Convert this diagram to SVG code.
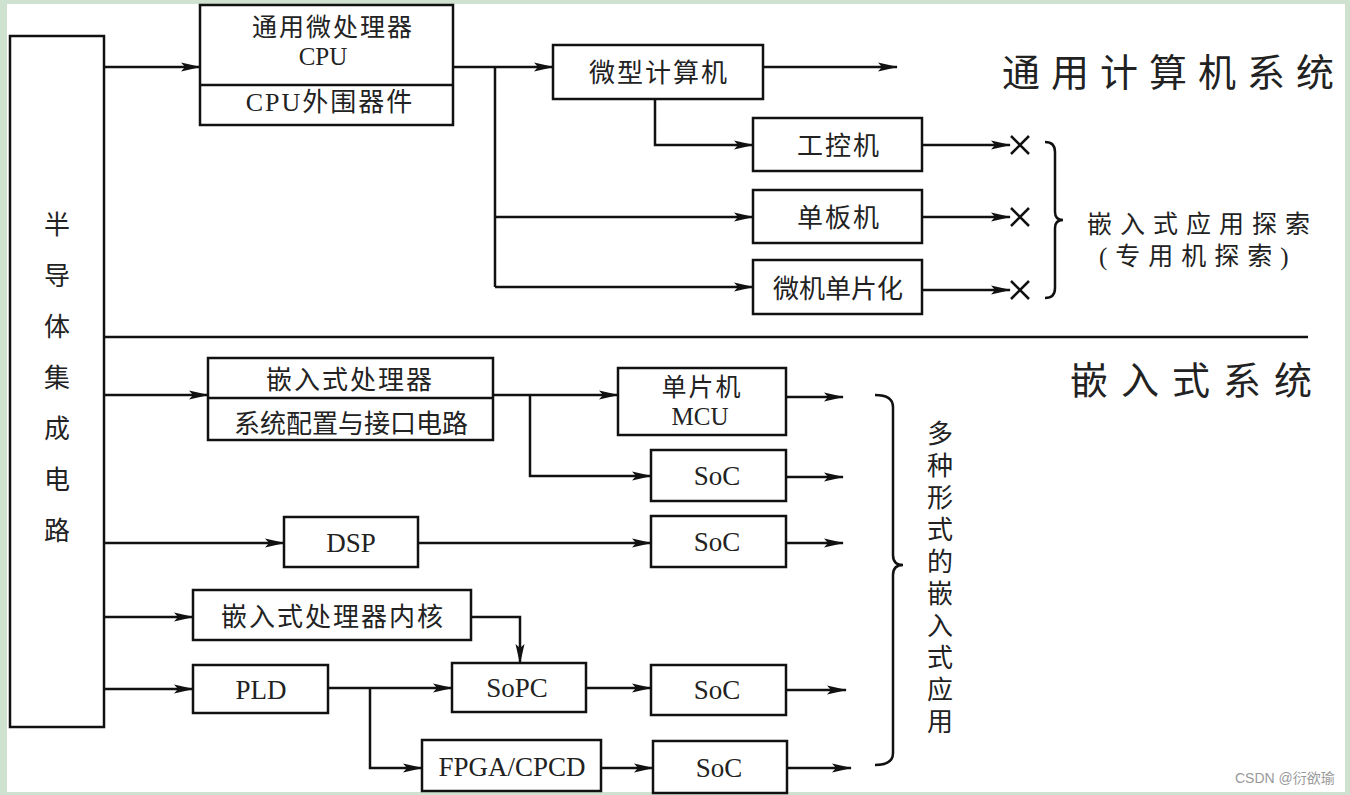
<svg xmlns="http://www.w3.org/2000/svg" width="1350" height="795" viewBox="0 0 1350 795">
<style>
.box{fill:#fff;stroke:#111;stroke-width:2.5}
.ln{fill:none;stroke:#111;stroke-width:2.5}
.arr{fill:none;stroke:#111;stroke-width:2.5;marker-end:url(#ah)}
.t{font-family:"Liberation Serif","Noto Sans CJK SC",serif;font-size:26px;fill:#222;text-anchor:middle;letter-spacing:2px}
.l{font-family:"Liberation Serif","Noto Sans CJK SC",serif;font-size:27px;fill:#222;text-anchor:middle}
.big{font-family:"Liberation Serif","Noto Sans CJK SC",serif;font-size:38px;fill:#222;letter-spacing:11px}
.mid{font-family:"Liberation Serif","Noto Sans CJK SC",serif;font-size:25px;fill:#222;letter-spacing:8px}
.v{font-family:"Liberation Serif","Noto Sans CJK SC",serif;font-size:26px;fill:#222;text-anchor:middle}
.wm{font-family:"Liberation Sans","Noto Sans CJK SC",sans-serif;font-size:14px;fill:#999}
</style>
<defs>
<marker id="ah" markerUnits="userSpaceOnUse" markerWidth="20" markerHeight="10" refX="19" refY="5" orient="auto">
<path d="M0,0.5 L20,5 L0,9.5 L4,5 z" fill="#111"/>
</marker>
</defs>
<rect x="0" y="0" width="1350" height="795" fill="#cfe2cf"/>
<rect x="7" y="4" width="1338" height="788" fill="#fff"/>

<g id="connectors">
<line class="ln" x1="104" y1="337" x2="1308" y2="337"/>
<path class="arr" d="M104,67 H200"/>
<path class="arr" d="M453,67 H553"/>
<path class="ln" d="M495,67 V287"/>
<path class="arr" d="M495,217 H753"/>
<path class="arr" d="M495,287 H753"/>
<path class="arr" d="M763,67 H897"/>
<path class="arr" d="M655,99 V145 H753"/>
<path class="arr" d="M922,145 H1010"/>
<path class="arr" d="M922,217 H1010"/>
<path class="arr" d="M922,290 H1010"/>
<path class="ln" d="M1011,136 L1029,154 M1029,136 L1011,154"/>
<path class="ln" d="M1011,208 L1029,226 M1029,208 L1011,226"/>
<path class="ln" d="M1011,281 L1029,299 M1029,281 L1011,299"/>
<path class="ln" d="M1045,142 Q1055,142 1055,152 L1055,212 Q1055,220 1063,220 Q1055,220 1055,228 L1055,288 Q1055,298 1045,298"/>

<path class="arr" d="M104,395 H208"/>
<path class="arr" d="M493,395 H618"/>
<path class="arr" d="M530,395 V476 H651"/>
<path class="arr" d="M786,397 H843"/>
<path class="arr" d="M786,477 H843"/>
<path class="arr" d="M104,543 H284"/>
<path class="arr" d="M418,543 H651"/>
<path class="arr" d="M786,543 H843"/>
<path class="arr" d="M104,617 H193"/>
<path class="arr" d="M471,617 H520 V663"/>
<path class="arr" d="M104,689 H193"/>
<path class="arr" d="M328,688 H452"/>
<path class="arr" d="M370,688 V768 H422"/>
<path class="arr" d="M586,688 H651"/>
<path class="arr" d="M786,690 H846"/>
<path class="arr" d="M601,768 H653"/>
<path class="arr" d="M787,768 H851"/>
<path class="ln" d="M875,395 Q893,395 893,407 L893,555 Q893,565 903,565 Q893,565 893,575 L893,753 Q893,765 875,765"/>
</g>

<g id="n-ic">
<rect class="box" x="10" y="36" width="94" height="691"/>
<text class="v" x="57" y="234">半</text>
<text class="v" x="57" y="285">导</text>
<text class="v" x="57" y="336">体</text>
<text class="v" x="57" y="387">集</text>
<text class="v" x="57" y="438">成</text>
<text class="v" x="57" y="489">电</text>
<text class="v" x="57" y="540">路</text>
</g>

<g id="n-cpu">
<rect class="box" x="200" y="5" width="253" height="120"/>
<line class="ln" x1="200" y1="85" x2="453" y2="85"/>
<text class="t" x="333" y="36" style="font-size:25px">通用微处理器</text>
<text class="l" x="323" y="65" style="font-size:25px">CPU</text>
<text class="t" x="330" y="111">CPU外围器件</text>
</g>

<g id="n-micro">
<rect class="box" x="553" y="45" width="210" height="54"/>
<text class="t" x="659" y="82">微型计算机</text>
</g>
<g id="n-gk">
<rect class="box" x="753" y="118" width="169" height="53"/>
<text class="t" x="839" y="155">工控机</text>
</g>
<g id="n-db">
<rect class="box" x="753" y="190" width="169" height="53"/>
<text class="t" x="839" y="227">单板机</text>
</g>
<g id="n-wj">
<rect class="box" x="753" y="260" width="169" height="54"/>
<text class="t" x="838" y="298" style="letter-spacing:0px">微机单片化</text>
</g>

<text class="big" x="1002" y="86">通用计算机系统</text>
<text class="mid" x="1087" y="233">嵌入式应用探索</text>
<text class="mid" x="1099" y="265">(专用机探索)</text>
<text class="big" x="1070" y="394" style="letter-spacing:13px">嵌入式系统</text>

<g id="n-emb">
<rect class="box" x="208" y="358" width="285" height="82"/>
<line class="ln" x1="208" y1="398" x2="493" y2="398"/>
<text class="t" x="350" y="389">嵌入式处理器</text>
<text class="t" x="351" y="433" style="letter-spacing:0px">系统配置与接口电路</text>
</g>
<g id="n-mcu">
<rect class="box" x="618" y="368" width="168" height="67"/>
<text class="t" x="702" y="396" style="font-size:25px">单片机</text>
<text class="l" x="700" y="425" style="font-size:25px">MCU</text>
</g>
<g id="n-soc1">
<rect class="box" x="651" y="450" width="135" height="51"/>
<text class="l" x="717" y="485">SoC</text>
</g>
<g id="n-dsp">
<rect class="box" x="284" y="517" width="134" height="50"/>
<text class="l" x="351" y="552">DSP</text>
</g>
<g id="n-soc2">
<rect class="box" x="651" y="516" width="135" height="51"/>
<text class="l" x="717" y="551">SoC</text>
</g>
<g id="n-core">
<rect class="box" x="193" y="590" width="278" height="50"/>
<text class="t" x="333" y="626">嵌入式处理器内核</text>
</g>
<g id="n-pld">
<rect class="box" x="193" y="665" width="135" height="48"/>
<text class="l" x="261" y="699">PLD</text>
</g>
<g id="n-sopc">
<rect class="box" x="452" y="663" width="134" height="49"/>
<text class="l" x="517" y="697">SoPC</text>
</g>
<g id="n-soc3">
<rect class="box" x="651" y="665" width="135" height="50"/>
<text class="l" x="717" y="699">SoC</text>
</g>
<g id="n-fpga">
<rect class="box" x="422" y="740" width="179" height="51"/>
<text class="l" x="512" y="776">FPGA/CPCD</text>
</g>
<g id="n-soc4">
<rect class="box" x="653" y="741" width="134" height="52"/>
<text class="l" x="719" y="777">SoC</text>
</g>

<g id="label-apps">
<text class="v" x="940" y="443">多</text>
<text class="v" x="940" y="475">种</text>
<text class="v" x="940" y="507">形</text>
<text class="v" x="940" y="539">式</text>
<text class="v" x="940" y="571">的</text>
<text class="v" x="940" y="603">嵌</text>
<text class="v" x="940" y="635">入</text>
<text class="v" x="940" y="667">式</text>
<text class="v" x="940" y="699">应</text>
<text class="v" x="940" y="731">用</text>
</g>
<text class="wm" x="1235" y="783">CSDN @衍欲瑜</text>
</svg>
